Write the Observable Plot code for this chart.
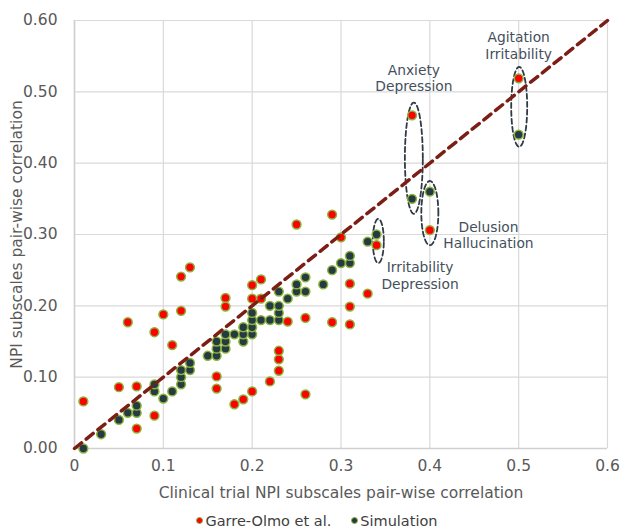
<!DOCTYPE html>
<html><head><meta charset="utf-8">
<script src="https://cdn.jsdelivr.net/npm/d3@7"></script>
<script src="https://cdn.jsdelivr.net/npm/@observablehq/plot@0.6"></script>
<style>
body{margin:0;background:#fff;font-family:"DejaVu Sans",sans-serif;}
#legend{display:flex;justify-content:center;align-items:center;gap:20px;height:31px;font-size:14.5px;color:#404040;padding-left:14px;}
#legend span.item{display:flex;align-items:center;gap:2px;}
#legend span.sw{display:inline-block;width:5px;height:5px;border-radius:50%;border:1.5px solid #8ab43c;}
</style></head><body><div id="chart"></div>
<script>
// Garre-Olmo et al. (x = clinical trial, y = reported)
const garreX = [0.01,0.05,0.07,0.07,0.09,0.06,0.09,0.10,0.12,0.11,0.12,0.13,0.16,0.16,0.17,0.17,0.18,0.19,0.20,0.20,0.21,0.20,0.21,0.22,0.23,0.23,0.23,0.24,0.25,0.26,0.26,0.29,0.29,0.30,0.31,0.31,0.31,0.33,0.34,0.38,0.40,0.50];
const garreY = [0.066,0.086,0.087,0.028,0.046,0.177,0.163,0.188,0.193,0.145,0.241,0.254,0.101,0.084,0.211,0.199,0.062,0.069,0.080,0.229,0.237,0.210,0.210,0.094,0.109,0.125,0.137,0.178,0.314,0.076,0.183,0.328,0.177,0.296,0.231,0.199,0.174,0.217,0.285,0.467,0.306,0.519];
// Simulation
const simX = [0.01,0.03,0.05,0.06,0.07,0.07,0.09,0.09,0.10,0.11,0.12,0.12,0.12,0.13,0.13,0.15,0.16,0.16,0.16,0.17,0.17,0.17,0.18,0.19,0.19,0.19,0.20,0.20,0.20,0.20,0.21,0.22,0.22,0.23,0.23,0.23,0.23,0.24,0.25,0.25,0.26,0.26,0.28,0.29,0.30,0.31,0.31,0.33,0.34,0.38,0.40,0.50];
const simY = [0.00,0.02,0.04,0.05,0.05,0.06,0.08,0.09,0.07,0.08,0.09,0.10,0.11,0.11,0.12,0.13,0.13,0.14,0.15,0.14,0.15,0.16,0.16,0.15,0.16,0.17,0.16,0.17,0.18,0.19,0.18,0.18,0.20,0.18,0.19,0.20,0.22,0.21,0.22,0.23,0.22,0.24,0.23,0.25,0.26,0.26,0.27,0.29,0.30,0.35,0.36,0.44];
const xTicks = [0,0.1,0.2,0.3,0.4,0.5,0.6];
const yTicks = [0,0.1,0.2,0.3,0.4,0.5,0.6];
const identityLine = [0,0.6];
// annotation groups
const groupLabels = ["Agitation\nIrritability","Anxiety\nDepression","Delusion\nHallucination","Irritability\nDepression"];
const groupLabelX = [0.50,0.382,0.466,0.389];
const groupLabelY = [0.565,0.52,0.30,0.243];
const ellipseCX = [0.5006,0.382,0.400,0.342];
const ellipseCY = [0.479,0.407,0.330,0.291];
const ellipseRX = [0.009,0.0101,0.0096,0.0062];
const ellipseRY = [0.056,0.078,0.045,0.031];

const garre = garreX.map((x,i)=>({x, y:garreY[i]}));
const sim = simX.map((x,i)=>({x, y:simY[i]}));
const labels = groupLabels.map((t,i)=>({t, x:groupLabelX[i], y:groupLabelY[i]}));
const ell = [];
ellipseCX.forEach((cx,i)=>{
  for(let k=0;k<=72;k++){const a=k/72*2*Math.PI; ell.push({g:i, x:cx+ellipseRX[i]*Math.cos(a), y:ellipseCY[i]+ellipseRY[i]*Math.sin(a)});}
});

const chart = Plot.plot({
  width:620, height:505,
  marginLeft:74, marginRight:13, marginTop:20, marginBottom:57,
  style:{fontSize:"15.5px", fontFamily:"DejaVu Sans, sans-serif", color:"#595959", background:"#fff"},
  x:{domain:[0,0.6]},
  y:{domain:[0,0.6]},
  marks:[
    Plot.gridX(xTicks,{stroke:"#d9d9d9", strokeOpacity:1, strokeWidth:1.2}),
    Plot.gridY(yTicks,{stroke:"#d9d9d9", strokeOpacity:1, strokeWidth:1.2}),
    Plot.ruleX([0],{stroke:"#d0d0d0", strokeWidth:1.6}),
    Plot.ruleY([0],{stroke:"#d0d0d0", strokeWidth:1.6}),
    Plot.axisX(xTicks,{tickSize:0, tickPadding:11, tickFormat:d=>d===0?"0":d.toFixed(1), label:null, fontSize:15.5}),
    Plot.axisY(yTicks,{tickSize:0, tickPadding:17, tickFormat:d=>d.toFixed(2), label:null, fontSize:15.5}),
    Plot.text(["Clinical trial NPI subscales pair-wise correlation"],{frameAnchor:"bottom", dy:49, fill:"#595959", fontSize:15.5}),
    Plot.text(["NPI subscales pair-wise correlation"],{frameAnchor:"left", dx:-57, rotate:-90, textAnchor:"middle", fill:"#595959", fontSize:15.5}),
    Plot.line(ell,{x:"x", y:"y", z:"g", stroke:"#2f3a44", strokeWidth:1.8, strokeDasharray:"5,3", curve:"linear"}),
    Plot.dot(garre,{x:"x", y:"y", r:4.4, fill:"#ff0000", stroke:"#8ab43c", strokeWidth:1.5}),
    Plot.dot(sim,{x:"x", y:"y", r:4.4, fill:"#263a44", stroke:"#8ab43c", strokeWidth:1.5}),
    Plot.line(identityLine.map(v=>({x:v,y:v})),{x:"x", y:"y", stroke:"#7b1f16", strokeWidth:3.5, strokeDasharray:"9,6"}),
    Plot.text(labels,{x:"x", y:"y", text:"t", fill:"#44505c", fontSize:13.8, lineHeight:1.2})
  ]
});
document.getElementById("chart").appendChild(chart);
const lg = document.createElement("div");
lg.id="legend";
lg.innerHTML = '<span class="item"><span class="sw" style="background:#ff0000"></span>Garre-Olmo et al.</span><span class="item"><span class="sw" style="background:#263a44"></span>Simulation</span>';
document.body.appendChild(lg);
</script>
</body></html>
